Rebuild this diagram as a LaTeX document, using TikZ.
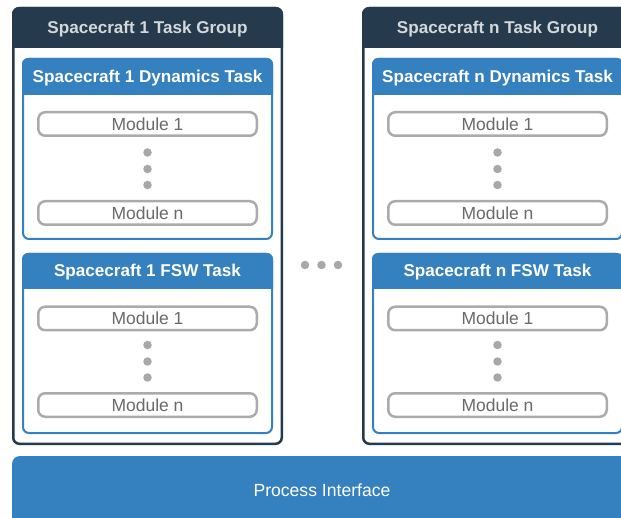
\documentclass[tikz,border=0pt]{standalone}
\usepackage{fontspec}
\setmainfont{Liberation Sans}
\definecolor{navy}{HTML}{253B4D}
\definecolor{taskblue}{HTML}{3580BE}
\definecolor{modgray}{HTML}{ABABAB}
\definecolor{modtext}{HTML}{6A6A6A}
\definecolor{dotgray}{HTML}{A8A8A8}
\definecolor{headtext}{HTML}{D4D8DB}
\tikzset{
  groupframe/.style={draw=navy, line width=2.5pt, rounded corners=6pt, fill=white},
  taskframe/.style={draw=taskblue, line width=2pt, rounded corners=6pt, fill=white},
  module/.style={draw=modgray, line width=2.5pt, rounded corners=7pt,
    minimum width=218.5pt, minimum height=23.5pt, inner sep=0pt,
    text=modtext, font=\fontsize{17.5}{19}\selectfont},
  grouptitle/.style={text=headtext, inner sep=0pt, font=\bfseries\fontsize{17.1}{19}\selectfont},
  tasktitle/.style={text=white, inner sep=0pt, font=\bfseries\fontsize{17.1}{19}\selectfont},
  ellipsisdot/.style={circle, fill=dotgray, inner sep=0pt, minimum size=8.5pt},
}
\newcommand{\taskbox}[5]{%
  % #1 top, #2 header bottom, #3 bottom, #4 title, #5 name prefix
  \draw[taskframe] (23,#1+1) rectangle (272,#3-1);
  \fill[taskblue] (22,#2) {[rounded corners=6pt] -- (22,#1) -- (273,#1)} -- (273,#2) -- cycle;
  \node[tasktitle] (#5title) at (147.5,{(#1+#2)/2+1.5}) {#4};
}
\begin{document}
\begin{tikzpicture}[x=1pt,y=-1pt]
  \useasboundingbox (0,0) rectangle (621,518);
  \clip (0,0) rectangle (621,518);
  \fill[white] (0,0) rectangle (621,518);

  \foreach \dx/\k in {0/1,350/n} {
    \begin{scope}[xshift=\dx pt]
      % task group frame and header
      \draw[groupframe] (13.25,8.25) rectangle (281.75,443.75);
      \fill[navy] (12,48) {[rounded corners=7pt] -- (12,7) -- (283,7)} -- (283,48) -- cycle;
      \node[grouptitle] (group\k) at (147.5,29) {Spacecraft \k{} Task Group};

      % dynamics task
      \taskbox{58}{95}{240}{Spacecraft \k{} Dynamics Task}{dyn\k}
      \node[module] (dyn\k m1) at (147.5,124) {Module 1};
      \node[module] (dyn\k mn) at (147.5,213) {Module n};
      \node[ellipsisdot] (dyn\k d1) at (147.5,152.5) {};
      \node[ellipsisdot] (dyn\k d2) at (147.5,169) {};
      \node[ellipsisdot] (dyn\k d3) at (147.5,185) {};

      % flight software task
      \taskbox{253}{289}{434}{Spacecraft \k{} FSW Task}{fsw\k}
      \node[module] (fsw\k m1) at (147.5,318.5) {Module 1};
      \node[module] (fsw\k mn) at (147.5,405) {Module n};
      \node[ellipsisdot] (fsw\k d1) at (147.5,345) {};
      \node[ellipsisdot] (fsw\k d2) at (147.5,361.5) {};
      \node[ellipsisdot] (fsw\k d3) at (147.5,377.5) {};
    \end{scope}
  }

  % ellipsis between the task groups
  \node[ellipsisdot] (gap1) at (305,265) {};
  \node[ellipsisdot] (gap2) at (321.5,265) {};
  \node[ellipsisdot] (gap3) at (338,265) {};

  % process interface bar
  \fill[taskblue, rounded corners=8pt] (12,456) rectangle (632,530);
  \node[text=white, inner sep=0pt, font=\fontsize{17.6}{19}\selectfont] (pi) at (322,490) {Process Interface};
\end{tikzpicture}
\end{document}
